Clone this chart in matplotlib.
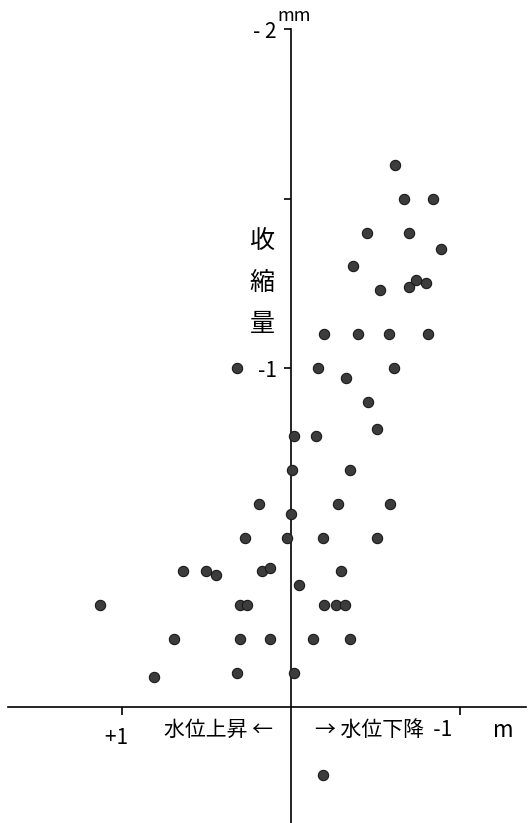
import numpy as np
import matplotlib.pyplot as plt

plt.rcParams['font.family'] = ['Noto Sans CJK JP', 'DejaVu Sans']

# 水位変化 (m, + = 上昇) と 収縮量 (mm, - = 収縮)
water = [-0.62, -0.67, -0.84, -0.45, -0.70, -0.89, -0.37, -0.53, -0.70, -0.74,
         -0.80, -0.20, -0.40, -0.58, -0.81, -0.16, -0.61, -0.33, 0.32, -0.46,
         -0.51, -0.02, -0.15, -0.01, -0.35, -0.28, -0.59, 0.00, 0.02, -0.19,
         -0.51, -0.30, -0.05, -0.20, -0.27, -0.32, -0.13, -0.35, -0.02, -0.19,
         0.19, 0.27, 0.64, 0.50, 0.44, 0.17, 0.12, 1.13, 0.30, 0.26,
         0.69, 0.30, 0.12, 0.81, 0.32]
shrink = [-1.6, -1.5, -1.5, -1.4, -1.4, -1.35, -1.3, -1.23, -1.24, -1.26,
          -1.25, -1.1, -1.1, -1.1, -1.1, -1.0, -1.0, -0.97, -1.0, -0.9,
          -0.82, -0.8, -0.8, -0.7, -0.7, -0.6, -0.6, -0.57, -0.5, -0.5,
          -0.5, -0.4, -0.36, -0.3, -0.3, -0.3, -0.2, -0.2, -0.1, 0.2,
          -0.6, -0.5, -0.4, -0.4, -0.39, -0.4, -0.41, -0.3, -0.3, -0.3,
          -0.2, -0.2, -0.2, -0.09, -0.1]

fig = plt.figure(figsize=(5.29, 8.23), dpi=100)
ax = fig.add_axes([0, 0, 1, 1])

ax.scatter(water, shrink, s=55, color='#3c3c3c', edgecolor='#1a1a1a',
           linewidth=0.8, zorder=3)

ax.set_xlim(1.72, -1.41)
ax.set_ylim(0.342, -2.086)

for s in ['top', 'right']:
    ax.spines[s].set_visible(False)
ax.spines['left'].set_position(('data', 0))
ax.spines['bottom'].set_position(('data', 0))
ax.spines['left'].set_bounds(-2, 0.342)
ax.spines['bottom'].set_bounds(1.67, -1.39)
ax.spines['left'].set_linewidth(1.2)
ax.spines['bottom'].set_linewidth(1.2)

ax.set_yticks([-2, -1.5, -1, -0.5])
ax.set_yticklabels(['- 2', '', '-1', ''])
ax.tick_params(axis='y', direction='out', length=5, width=1.2, pad=5,
               labelsize=15)
ax.set_xticks([1, -1])
ax.set_xticklabels(['+1  ', ''])
ax.tick_params(axis='x', direction='out', length=6, width=1.2, pad=8,
               labelsize=15)

ax.text(-0.02, -2.04, 'mm', fontsize=13, ha='center', va='center')
ax.text(0.17, -1.25, '收\n縮\n量', fontsize=18, ha='center', va='center',
        linespacing=1.75)
ax.text(0.107, 0.068, '水位上昇 ←', fontsize=15, ha='right', va='center')
ax.text(-0.142, 0.068, '→ 水位下降  -1', fontsize=15, ha='left', va='center')
ax.text(-1.195, 0.068, 'm', fontsize=16, ha='left', va='center')

fig.savefig('out.png', dpi=100)
